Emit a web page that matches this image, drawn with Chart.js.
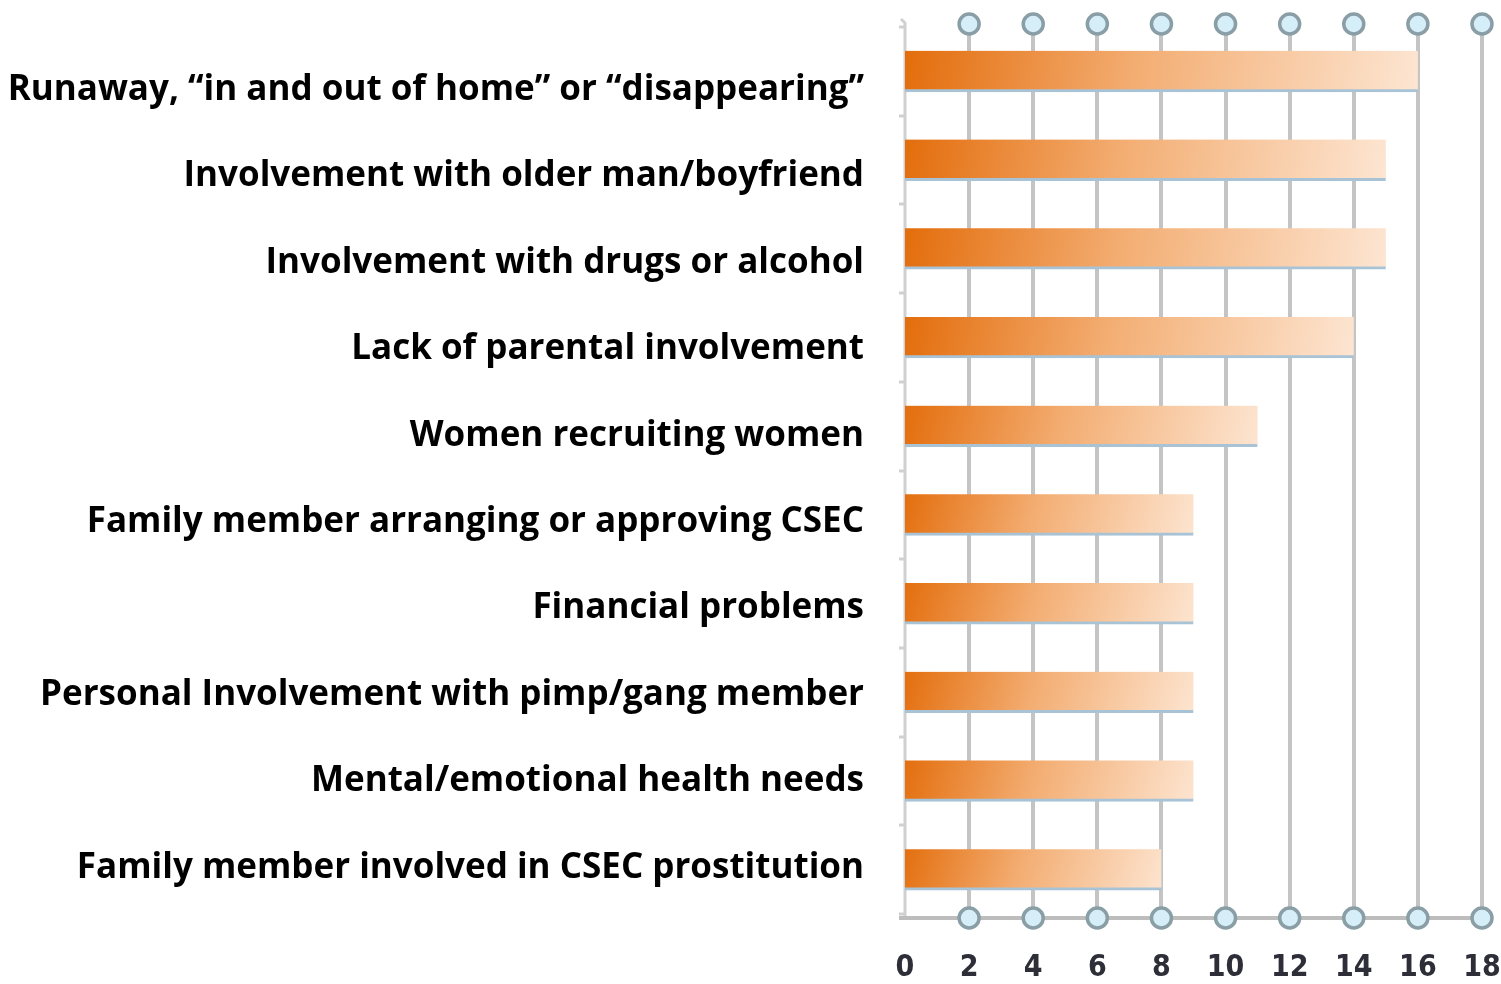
<!DOCTYPE html>
<html>
<head>
<meta charset="utf-8">
<script src="https://cdn.jsdelivr.net/npm/chart.js@4.4.1/dist/chart.umd.min.js"></script>
<style>
  html, body { margin: 0; padding: 0; background: #fff; }
  #wrap { width: 1501px; height: 984px; position: relative; }
</style>
</head>
<body>
<div id="wrap"><canvas id="chart"></canvas></div>
<script>
// categories, top to bottom
const categories = [
    'Runaway, \u201cin and out of home\u201d or \u201cdisappearing\u201d',
    'Involvement with older man/boyfriend',
    'Involvement with drugs or alcohol',
    'Lack of parental involvement',
    'Women recruiting women',
    'Family member arranging or approving CSEC',
    'Financial problems',
    'Personal Involvement with pimp/gang member',
    'Mental/emotional health needs',
    'Family member involved in CSEC prostitution'
];
const counts = [16, 15, 15, 14, 11, 9, 9, 9, 9, 8];
const xTicks = [0, 2, 4, 6, 8, 10, 12, 14, 16, 18];

// gradient per bar, dark orange on the left fading to pale peach
function barGradient(context) {
    const chart = context.chart;
    if (!chart.chartArea || context.type !== 'data') return '#f0a060';
    const xs = chart.scales.x, ys = chart.scales.y;
    const x0 = xs.getPixelForValue(0);
    const x1 = xs.getPixelForValue(context.parsed.x);
    const y = ys.getPixelForValue(context.dataIndex);
    const g = chart.ctx.createLinearGradient(x0, y - 40, x1, y + 40);
    g.addColorStop(0, '#e36c0a');
    g.addColorStop(0.45, '#f3ad72');
    g.addColorStop(1, '#fde6d3');
    return g;
}

// vertical grid lines with ring markers, bottom axis line, left axis
const decor = {
    id: 'decor',
    beforeDatasetsDraw(chart) {
        const ctx = chart.ctx, xs = chart.scales.x, ys = chart.scales.y;
        const top = chart.chartArea.top - 8;
        const bottom = chart.chartArea.bottom + 4;
        ctx.save();
        ctx.strokeStyle = '#c4c4c4';
        ctx.lineWidth = 4;
        xTicks.forEach(v => {
            if (v === 0) return;
            const x = Math.round(xs.getPixelForValue(v));
            ctx.beginPath();
            ctx.moveTo(x, top);
            ctx.lineTo(x, bottom);
            ctx.stroke();
        });
        // left axis
        const x0 = Math.round(xs.getPixelForValue(0));
        ctx.strokeStyle = '#d0d0d0';
        ctx.lineWidth = 3;
        ctx.beginPath();
        ctx.moveTo(x0 - 4, top);
        ctx.lineTo(x0, top + 4);
        ctx.lineTo(x0, bottom);
        ctx.stroke();
        // small tick marks between categories
        for (let i = 0; i <= categories.length; i++) {
            const y = Math.round(ys.getPixelForValue(i - 0.5));
            ctx.beginPath();
            ctx.moveTo(x0 - 6, y);
            ctx.lineTo(x0, y);
            ctx.stroke();
        }
        // bottom axis line
        ctx.strokeStyle = '#bdbdbd';
        ctx.lineWidth = 4;
        ctx.beginPath();
        ctx.moveTo(x0 - 6, bottom);
        ctx.lineTo(xs.getPixelForValue(18), bottom);
        ctx.stroke();
        ctx.restore();
    },
    afterDraw(chart) {
        const ctx = chart.ctx, xs = chart.scales.x;
        const top = chart.chartArea.top - 3;
        const bottom = chart.chartArea.bottom + 4;
        ctx.save();
        xTicks.forEach(v => {
            if (v === 0) return;
            const x = xs.getPixelForValue(v);
            [top, bottom].forEach(y => {
                ctx.beginPath();
                ctx.arc(x, y, 10, 0, Math.PI * 2);
                ctx.fillStyle = '#d6eef8';
                ctx.fill();
                ctx.lineWidth = 3.5;
                ctx.strokeStyle = '#8a9ea6';
                ctx.stroke();
            });
        });
        ctx.restore();
    }
};

new Chart(document.getElementById('chart'), {
    type: 'bar',
    data: {
        labels: categories,
        datasets: [{
            data: counts,
            backgroundColor: barGradient,
            borderColor: '#a9c3d6',
            borderWidth: { top: 0, left: 0, right: 0, bottom: 3 },
            borderSkipped: false,
            barThickness: 41
        }]
    },
    options: {
        indexAxis: 'y',
        responsive: true,
        maintainAspectRatio: false,
        animation: false,
        layout: { padding: { top: 27, right: 19, bottom: 0, left: 0 } },
        plugins: {
            legend: { display: false },
            tooltip: { enabled: false }
        },
        scales: {
            x: {
                min: 0,
                max: 18,
                afterBuildTicks: scale => { scale.ticks = xTicks.map(v => ({ value: v })); },
                afterFit: scale => {
                    scale.height = 70;
                    scale.paddingLeft = 0;
                    scale.paddingRight = 0;
                },
                grid: { display: false, drawTicks: false },
                border: { display: false },
                ticks: {
                    padding: 36,
                    color: '#2e2e38',
                    font: { family: 'DejaVu Sans Condensed', weight: 'bold', size: 30 }
                }
            },
            // bars use this category axis; its labels are hidden
            y: {
                display: false
            },
            // the label column sits on a slightly tighter pitch than the bars
            yl: {
                type: 'linear',
                position: 'left',
                reverse: true,
                offset: false,
                bounds: 'data',
                min: -0.73,
                max: 9.536,
                afterBuildTicks: scale => { scale.ticks = categories.map((c, i) => ({ value: i })); },
                afterFit: scale => {
                    scale.width = 905;
                    scale.paddingTop = 0;
                    scale.paddingBottom = 0;
                },
                grid: { display: false, drawTicks: false },
                border: { display: false },
                ticks: {
                    padding: 41,
                    color: '#000',
                    autoSkip: false,
                    callback: v => categories[v],
                    font: { family: 'Open Sans', weight: 'bold', size: 35 }
                }
            }
        }
    },
    plugins: [decor]
});
</script>
</body>
</html>
